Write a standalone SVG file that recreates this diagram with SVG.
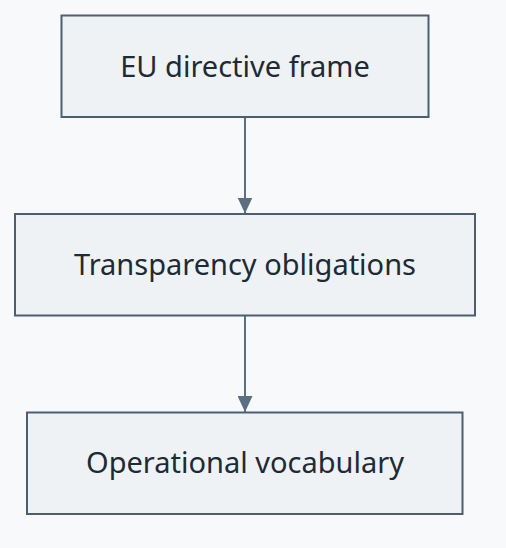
<svg xmlns="http://www.w3.org/2000/svg" width="506" height="548" viewBox="0 0 506 548">
<defs>
<style>
.box{fill:#eef2f5;stroke:#4b5f70;stroke-width:2}
.lbl{font-family:"Noto Sans","Open Sans",sans-serif;font-size:29px;fill:#1e2a36;text-anchor:middle}
.edge{stroke:#5b6f80;stroke-width:2;fill:none}
</style>
<marker id="ah" viewBox="0 0 16 15" refX="16" refY="7.5" markerWidth="16" markerHeight="15" markerUnits="userSpaceOnUse" orient="auto">
<path d="M0,0 L16,7.5 L0,15 Z" fill="#5b6f80"/>
</marker>
</defs>
<rect x="0" y="0" width="506" height="548" fill="#f7f9fb"/>
<g id="connectors">
<line class="edge" x1="245" y1="117" x2="245" y2="213.5" marker-end="url(#ah)"/>
<line class="edge" x1="245" y1="315.5" x2="245" y2="412" marker-end="url(#ah)"/>
</g>
<g id="node-eu">
<rect class="box" x="61.5" y="15.5" width="367" height="101.5"/>
<text class="lbl" x="245" y="76.5">EU directive frame</text>
</g>
<g id="node-transparency">
<rect class="box" x="15" y="214" width="460" height="101.5"/>
<text class="lbl" x="245" y="274.5">Transparency obligations</text>
</g>
<g id="node-vocab">
<rect class="box" x="27" y="412.5" width="435.5" height="101.5"/>
<text class="lbl" x="245" y="473">Operational vocabulary</text>
</g>
</svg>
